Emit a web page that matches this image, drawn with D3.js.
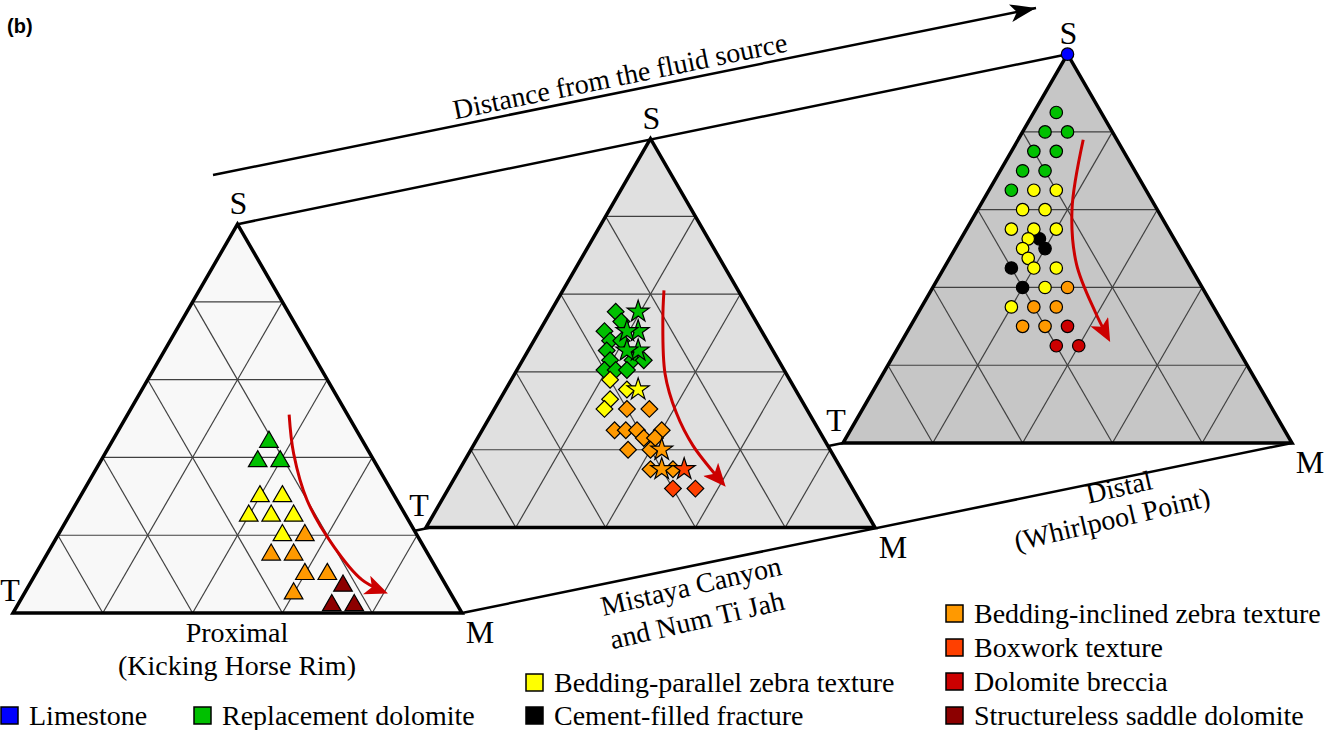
<!DOCTYPE html>
<html>
<head>
<meta charset="utf-8">
<script src="https://cdn.jsdelivr.net/npm/d3@7"></script>
<style>
  html, body { margin: 0; padding: 0; background: #fff; }
  svg { display: block; }
  text { font-family: "Liberation Serif", "Times New Roman", serif; fill: #000; }
</style>
</head>
<body>
<svg id="chart" width="1339" height="730"></svg>
<script>
// ---------------------------------------------------------------------------
// Data
// ---------------------------------------------------------------------------
const textureKeys = ["LS", "RD", "BPZ", "CFF", "BIZ", "BOX", "DB", "SSD"];
const textureNames = [
  "Limestone",
  "Replacement dolomite",
  "Bedding-parallel zebra texture",
  "Cement-filled fracture",
  "Bedding-inclined zebra texture",
  "Boxwork texture",
  "Dolomite breccia",
  "Structureless saddle dolomite"
];

const vertexNames = ["S", "T", "M"];
const siteNames = [
  ["Proximal", "(Kicking Horse Rim)"],
  ["Mistaya Canyon", "and Num Ti Jah"],
  ["Distal", "(Whirlpool Point)"]
];
const trendTitle = "Distance from the fluid source";

// Compositions in percent: [texture, S, T, M]
const proximalPoints = [
  ["RD", 44, 21, 35], ["RD", 39, 26, 35], ["RD", 39, 21, 40],
  ["BPZ", 30, 30, 40], ["BPZ", 30, 25, 45],
  ["BPZ", 25, 35, 40], ["BPZ", 25, 30, 45], ["BPZ", 25, 25, 50],
  ["BPZ", 20, 30, 50],
  ["BIZ", 20, 25, 55], ["BIZ", 15, 35, 50], ["BIZ", 15, 30, 55],
  ["BIZ", 10, 30, 60], ["BIZ", 10, 25, 65], ["BIZ", 5, 35, 60],
  ["SSD", 7, 23, 70], ["SSD", 2, 28, 70], ["SSD", 2, 23, 75]
];

// [texture, locality, S, T, M]  (MC = Mistaya Canyon, NTJ = Num Ti Jah)
const mistayaPoints = [
  ["RD", "MC", 55.5, 30, 14.5], ["RD", "MC", 53, 30, 17],
  ["RD", "MC", 50.5, 35, 14.5], ["RD", "MC", 48, 35, 17],
  ["RD", "MC", 48, 32.5, 19.5], ["RD", "MC", 45.5, 37, 17.5],
  ["RD", "MC", 43, 37.5, 19.5], ["RD", "MC", 43, 32.5, 24.5],
  ["RD", "MC", 43, 30, 27], ["RD", "MC", 40.5, 40, 19.5],
  ["RD", "MC", 40.5, 37.5, 22], ["RD", "MC", 40.5, 35, 24.5],
  ["RD", "NTJ", 55.5, 25, 19.5], ["RD", "NTJ", 50.5, 27.5, 22],
  ["RD", "NTJ", 50.5, 30, 19.5], ["RD", "NTJ", 45.5, 30, 24.5],
  ["RD", "NTJ", 45.5, 32.5, 22],
  ["BPZ", "MC", 38, 40, 22], ["BPZ", "MC", 35.5, 37.5, 27],
  ["BPZ", "MC", 33, 42.5, 24.5], ["BPZ", "MC", 30.5, 45, 24.5],
  ["BPZ", "NTJ", 35.5, 35, 29.5],
  ["BIZ", "MC", 30.5, 40, 29.5], ["BIZ", "MC", 30.5, 35, 34.5],
  ["BIZ", "MC", 25, 45.5, 29.5], ["BIZ", "MC", 25, 43, 32],
  ["BIZ", "MC", 25, 40.5, 34.5], ["BIZ", "MC", 25, 35, 40],
  ["BIZ", "MC", 23, 40, 37], ["BIZ", "MC", 23, 37.5, 39.5],
  ["BIZ", "MC", 20, 45, 35], ["BIZ", "MC", 20, 40, 40],
  ["BIZ", "MC", 15, 42.5, 42.5], ["BIZ", "MC", 15, 37.5, 47.5],
  ["BIZ", "NTJ", 20, 37.5, 42.5], ["BIZ", "NTJ", 15, 40, 45],
  ["BOX", "NTJ", 15, 35, 50],
  ["BOX", "MC", 10, 40, 50], ["BOX", "MC", 10, 35, 55]
];

const distalPoints = [
  ["LS", 100, 0, 0],
  ["RD", 85, 10, 5], ["RD", 80, 15, 5], ["RD", 80, 10, 10],
  ["RD", 75, 20, 5], ["RD", 75, 15, 10], ["RD", 70, 25, 5],
  ["RD", 70, 20, 10], ["RD", 65, 30, 5],
  ["CFF", 52.5, 30, 17.5], ["CFF", 50, 30, 20],
  ["CFF", 45, 40, 15], ["CFF", 40, 40, 20],
  ["BPZ", 65, 25, 10], ["BPZ", 65, 20, 15], ["BPZ", 60, 30, 10],
  ["BPZ", 60, 25, 15], ["BPZ", 55, 35, 10], ["BPZ", 55, 30, 15],
  ["BPZ", 55, 25, 20], ["BPZ", 52.5, 32.5, 15], ["BPZ", 50, 35, 15],
  ["BPZ", 47.5, 35, 17.5], ["BPZ", 45, 35, 20], ["BPZ", 45, 30, 25],
  ["BPZ", 40, 35, 25], ["BPZ", 35, 45, 20],
  ["BIZ", 40, 30, 30], ["BIZ", 35, 40, 25], ["BIZ", 35, 35, 30],
  ["BIZ", 30, 45, 25], ["BIZ", 30, 40, 30],
  ["DB", 30, 35, 35], ["DB", 25, 40, 35], ["DB", 25, 35, 40]
];

// Evolution trend drawn in each diagram: [S, T, M]
const proximalTrend = [[51, 13, 36], [41, 17, 42], [29, 20, 51], [17, 20, 63], [8.5, 18, 73.5], [5, 14, 81]];
const mistayaTrend  = [[61, 16.5, 22.5], [53.5, 20.5, 26], [39.5, 27, 33.5], [29.5, 29.5, 41], [21, 30, 49], [10.5, 28, 61.5]];
const distalTrend   = [[78, 7.5, 14.5], [60, 19, 21], [46, 25, 29], [33.5, 27, 39.5], [26, 27.5, 46.5]];

// ---------------------------------------------------------------------------
// Styling and layout
// ---------------------------------------------------------------------------
const textureColor = d3.scaleOrdinal()
  .domain(textureKeys)
  .range(["#0000ff", "#00c000", "#ffff00", "#000000", "#ff9900", "#ff4000", "#cc0000", "#8c0000"]);

const SIDE = 449, HEIGHT = SIDE * Math.sqrt(3) / 2;
const panels = [
  { left: 13,  base: 613,   fill: "#f8f8f8" },
  { left: 426, base: 527.5, fill: "#e0e0e0" },
  { left: 843, base: 443,   fill: "#c6c6c6" }
];
panels.forEach(p => {
  p.x = d3.scaleLinear().domain([0, 100]).range([p.left, p.left + SIDE]);
  p.y = d3.scaleLinear().domain([0, 100]).range([p.base, p.base - HEIGHT]);
  p.proj = ([s, t, m]) => [p.x(m + s / 2), p.y(s)];
});

const tilt = Math.atan2(panels[2].base - panels[0].base, panels[2].left - panels[0].left) * 180 / Math.PI;
const siteTilt = -13;

const svg = d3.select("#chart");
const defs = svg.append("defs");
function arrowHead(id, color, len, half) {
  defs.append("marker")
    .attr("id", id)
    .attr("markerUnits", "userSpaceOnUse")
    .attr("viewBox", `0 ${-half} ${len} ${2 * half}`)
    .attr("markerWidth", len).attr("markerHeight", 2 * half)
    .attr("refX", len).attr("refY", 0)
    .attr("orient", "auto")
    .append("path")
    .attr("d", `M0,${-half} L${len},0 L0,${half} L${len * 0.25},0 Z`)
    .attr("fill", color);
}
arrowHead("headRed", "#cc0000", 23, 10);
arrowHead("headBlack", "#000", 26, 9);

// ---------------------------------------------------------------------------
// Lines joining matching vertices of the three diagrams
// ---------------------------------------------------------------------------
const corners = [[100, 0, 0], [0, 100, 0], [0, 0, 100]];
const connectors = svg.append("g");
corners.forEach(c => {
  const a = panels[0].proj(c), b = panels[2].proj(c);
  connectors.append("line")
    .attr("x1", a[0]).attr("y1", a[1]).attr("x2", b[0]).attr("y2", b[1])
    .attr("stroke", "#000").attr("stroke-width", 2.5);
});

// ---------------------------------------------------------------------------
// Ternary frames and grids
// ---------------------------------------------------------------------------
const line = d3.line();
panels.forEach(p => {
  const g = svg.append("g");
  const outline = corners.map(p.proj);
  g.append("path").attr("d", line(outline) + "Z").attr("fill", p.fill);
  const grid = [];
  for (let k = 20; k < 100; k += 20) {
    grid.push([[k, 100 - k, 0], [k, 0, 100 - k]]);
    grid.push([[0, k, 100 - k], [100 - k, k, 0]]);
    grid.push([[0, 100 - k, k], [100 - k, 0, k]]);
  }
  g.selectAll("path.grid").data(grid).join("path")
    .attr("class", "grid")
    .attr("d", d => line(d.map(p.proj)))
    .attr("stroke", "#404040").attr("stroke-width", 1.2).attr("fill", "none");
  g.append("path").attr("d", line(outline) + "Z")
    .attr("fill", "none").attr("stroke", "#000").attr("stroke-width", 3.5)
    .attr("stroke-linejoin", "miter");
});

// ---------------------------------------------------------------------------
// Samples
// ---------------------------------------------------------------------------
function drawSymbols(p, rows, comp, shape, size, rot) {
  svg.append("g").selectAll("path").data(rows).join("path")
    .attr("transform", d => {
      const [x, y] = p.proj(comp(d));
      return `translate(${x},${y})` + (rot ? ` rotate(${rot})` : "");
    })
    .attr("d", d3.symbol().type(shape).size(size))
    .attr("fill", d => textureColor(d[0]))
    .attr("stroke", "#000").attr("stroke-width", 1.2);
}

drawSymbols(panels[0], proximalPoints, d => d.slice(1), d3.symbolTriangle, 150, 0);
drawSymbols(panels[1], mistayaPoints.filter(d => d[1] === "MC"), d => d.slice(2), d3.symbolSquare, 140, 45);
drawSymbols(panels[1], mistayaPoints.filter(d => d[1] === "NTJ"), d => d.slice(2), d3.symbolStar, 150, 0);
drawSymbols(panels[2], distalPoints.filter(d => d[0] === "CFF"), d => d.slice(1), d3.symbolCircle, 122, 0);
drawSymbols(panels[2], distalPoints.filter(d => d[0] !== "CFF"), d => d.slice(1), d3.symbolCircle, 122, 0);

// Trend arrows
const curve = d3.line().curve(d3.curveCatmullRom.alpha(0.5));
[[panels[0], proximalTrend], [panels[1], mistayaTrend], [panels[2], distalTrend]].forEach(([p, pts]) => {
  const path = svg.append("path")
    .attr("d", curve(pts.map(p.proj)))
    .attr("fill", "none").attr("stroke", "#cc0000").attr("stroke-width", 3)
    .attr("marker-end", "url(#headRed)");
  const len = path.node().getTotalLength();
  path.attr("stroke-dasharray", `${len - 10} ${len}`);
});

// ---------------------------------------------------------------------------
// Vertex and site labels
// ---------------------------------------------------------------------------
panels.forEach((p, i) => {
  const [sx, sy] = p.proj([100, 0, 0]);
  const [tx, ty] = p.proj([0, 100, 0]);
  const [mx, my] = p.proj([0, 0, 100]);
  const lab = svg.append("g").attr("font-size", 32).attr("text-anchor", "middle");
  lab.append("text").attr("x", sx + 1).attr("y", sy - 10).text(vertexNames[0]);
  lab.append("text").attr("x", Math.max(tx - 7, 10)).attr("y", ty - 12).text(vertexNames[1]);
  lab.append("text").attr("x", mx + 18).attr("y", my + 30).text(vertexNames[2]);
});

const siteG = svg.append("g").attr("font-size", 28).attr("text-anchor", "middle");
siteG.append("text").attr("x", 237).attr("y", 642).text(siteNames[0][0]);
siteG.append("text").attr("x", 237).attr("y", 675).text(siteNames[0][1]);
function tiltedText(txt, cx, cy, angle) {
  siteG.append("text")
    .attr("transform", `translate(${cx},${cy}) rotate(${angle})`)
    .attr("dominant-baseline", "central")
    .text(txt);
}
tiltedText(siteNames[1][0], 691, 586, siteTilt);
tiltedText(siteNames[1][1], 697, 620, siteTilt);
tiltedText(siteNames[2][0], 1119, 487, siteTilt);
tiltedText(siteNames[2][1], 1112, 519, siteTilt);

// Distance arrow
svg.append("line")
  .attr("x1", 213).attr("y1", 175).attr("x2", 1036).attr("y2", 8)
  .attr("stroke", "#000").attr("stroke-width", 2.5)
  .attr("marker-end", "url(#headBlack)");
tiltedText(trendTitle, 620, 76, tilt);

// Panel tag
svg.append("text").attr("x", 7).attr("y", 33)
  .style("font-family", "'Liberation Sans', Arial, sans-serif")
  .attr("font-weight", "bold").attr("font-size", 20).text("(b)");

// ---------------------------------------------------------------------------
// Legend
// ---------------------------------------------------------------------------
const legendSlots = [[1, 707], [194, 707], [526, 674], [526, 707], [946, 605], [946, 639], [946, 673], [946, 707]];
const legend = svg.append("g").selectAll("g").data(textureKeys).join("g")
  .attr("transform", (d, i) => `translate(${legendSlots[i][0]},${legendSlots[i][1]})`);
legend.append("rect").attr("width", 17).attr("height", 17)
  .attr("fill", d => textureColor(d)).attr("stroke", "#000").attr("stroke-width", 1.5);
legend.append("text").attr("x", 28).attr("y", 18).attr("font-size", 28)
  .text((d, i) => textureNames[i]);
</script>
</body>
</html>
